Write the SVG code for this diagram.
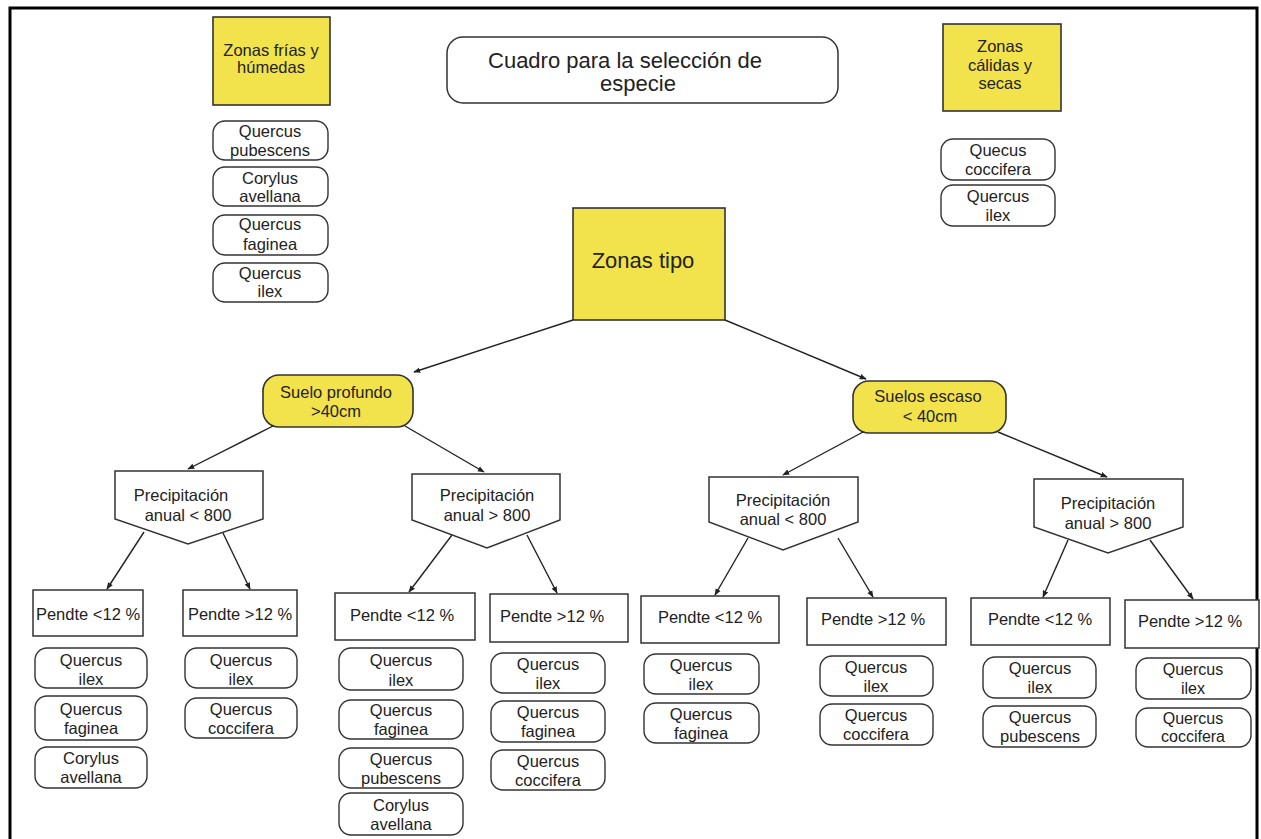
<svg xmlns="http://www.w3.org/2000/svg" width="1261" height="839" viewBox="0 0 1261 839">
<style>
text{font-family:"Liberation Sans",Arial,sans-serif;fill:#222;text-anchor:middle}
.t15{font-size:16.5px}
.t14{font-size:16px}
.t20{font-size:22px}
.sp{fill:#fff;stroke:#333;stroke-width:1.4}
.yel{fill:#f2e24c;stroke:#333;stroke-width:1.6}
.box{fill:#fff;stroke:#333;stroke-width:1.5}
.con line{stroke:#222;stroke-width:1.4;marker-end:url(#ah)}
</style>
<defs>
<marker id="ah" viewBox="0 0 10 10" refX="9" refY="5" markerWidth="7" markerHeight="7" orient="auto" markerUnits="userSpaceOnUse">
<path d="M0,1 L10,5 L0,9 Z" fill="#222"/>
</marker>
</defs>
<rect width="1261" height="839" fill="#fff"/>
<path d="M10,839 L10,8 L1257,8 L1257,839" fill="none" stroke="#000" stroke-width="3"/>

<g id="title"><rect class="box" x="447" y="37" width="391" height="66" rx="16"/>
<text class="t20" x="625" y="68">Cuadro para la selección de</text>
<text class="t20" x="638" y="91">especie</text></g>

<g id="zonas-frias"><rect class="yel" x="213" y="17" width="117" height="88"/>
<text class="t15" x="271" y="56">Zonas frías y</text>
<text class="t15" x="271" y="73">húmedas</text></g>

<g id="zonas-calidas"><rect class="yel" x="943" y="24" width="118" height="87"/>
<text class="t15" x="1000" y="52">Zonas</text>
<text class="t15" x="1000" y="71">cálidas y</text>
<text class="t15" x="1000" y="89">secas</text></g>

<g id="zonas-tipo"><rect class="yel" x="573" y="208" width="152" height="112"/>
<text class="t20" x="643" y="268">Zonas tipo</text></g>

<g id="suelo-profundo"><rect class="yel" x="263" y="375" width="150" height="52" rx="16"/>
<text class="t15" x="336" y="398">Suelo profundo</text>
<text class="t15" x="336" y="417">&gt;40cm</text></g>

<g id="suelos-escaso"><rect class="yel" x="853" y="381" width="153" height="52" rx="16"/>
<text class="t15" x="928" y="402">Suelos escaso</text>
<text class="t15" x="930" y="422">&lt; 40cm</text></g>

<g id="p1"><path class="box" d="M115,471 L263,471 L263,519 L188,544 L115,519 Z"/>
<text class="t15" x="181" y="501">Precipitación</text>
<text class="t15" x="188" y="521">anual &lt; 800</text></g>
<g id="p2"><path class="box" d="M412,474 L560,474 L560,520 L487,548 L412,520 Z"/>
<text class="t15" x="487" y="501">Precipitación</text>
<text class="t15" x="487" y="521">anual &gt; 800</text></g>
<g id="p3"><path class="box" d="M709,477 L858,477 L858,522 L783,550 L709,522 Z"/>
<text class="t15" x="783" y="506">Precipitación</text>
<text class="t15" x="783" y="525">anual &lt; 800</text></g>
<g id="p4"><path class="box" d="M1034,479 L1183,479 L1183,527 L1108,553 L1034,527 Z"/>
<text class="t15" x="1108" y="509">Precipitación</text>
<text class="t15" x="1108" y="529">anual &gt; 800</text></g>

<g id="b1"><rect class="box" x="33" y="590" width="110" height="46"/><text class="t15" x="88" y="620">Pendte &lt;12 %</text></g>
<g id="b2"><rect class="box" x="183" y="590" width="114" height="46"/><text class="t15" x="240" y="620">Pendte &gt;12 %</text></g>
<g id="b3"><rect class="box" x="335" y="593" width="140" height="47"/><text class="t15" x="402" y="621">Pendte &lt;12 %</text></g>
<g id="b4"><rect class="box" x="490" y="594" width="138" height="48"/><text class="t15" x="552" y="622">Pendte &gt;12 %</text></g>
<g id="b5"><rect class="box" x="641" y="596" width="138" height="47"/><text class="t15" x="710" y="623">Pendte &lt;12 %</text></g>
<g id="b6"><rect class="box" x="807" y="598" width="139" height="47"/><text class="t15" x="873" y="625">Pendte &gt;12 %</text></g>
<g id="b7"><rect class="box" x="971" y="598" width="139" height="47"/><text class="t15" x="1040" y="625">Pendte &lt;12 %</text></g>
<g id="b8"><rect class="box" x="1125" y="600" width="134" height="48"/><text class="t15" x="1190" y="627">Pendte &gt;12 %</text></g>

<g id="tl1"><rect class="sp" x="213" y="121" width="115" height="39" rx="12"/><text class="t15" x="270" y="137">Quercus</text><text class="t15" x="270" y="156">pubescens</text></g>
<g id="tl2"><rect class="sp" x="213" y="167" width="115" height="39" rx="12"/><text class="t15" x="270" y="184">Corylus</text><text class="t15" x="270" y="202">avellana</text></g>
<g id="tl3"><rect class="sp" x="213" y="215" width="115" height="40" rx="12"/><text class="t15" x="270" y="230">Quercus</text><text class="t15" x="270" y="250">faginea</text></g>
<g id="tl4"><rect class="sp" x="213" y="263" width="115" height="39" rx="12"/><text class="t15" x="270" y="279">Quercus</text><text class="t15" x="270" y="297">ilex</text></g>
<g id="tr1"><rect class="sp" x="941" y="139" width="114" height="41" rx="12"/><text class="t15" x="998" y="156">Quecus</text><text class="t15" x="998" y="175">coccifera</text></g>
<g id="tr2"><rect class="sp" x="941" y="185" width="114" height="41" rx="12"/><text class="t15" x="998" y="202">Quercus</text><text class="t15" x="998" y="221">ilex</text></g>

<g id="c1a"><rect class="sp" x="35" y="648" width="112" height="40" rx="12"/><text class="t15" x="91" y="666">Quercus</text><text class="t15" x="91" y="685">ilex</text></g>
<g id="c1b"><rect class="sp" x="35" y="696" width="112" height="44" rx="12"/><text class="t15" x="91" y="715">Quercus</text><text class="t15" x="91" y="734">faginea</text></g>
<g id="c1c"><rect class="sp" x="35" y="747" width="112" height="41" rx="12"/><text class="t15" x="91" y="764">Corylus</text><text class="t15" x="91" y="783">avellana</text></g>
<g id="c2a"><rect class="sp" x="185" y="648" width="112" height="40" rx="12"/><text class="t15" x="241" y="666">Quercus</text><text class="t15" x="241" y="685">ilex</text></g>
<g id="c2b"><rect class="sp" x="185" y="698" width="112" height="40" rx="12"/><text class="t15" x="241" y="715">Quercus</text><text class="t15" x="241" y="734">coccifera</text></g>
<g id="c3a"><rect class="sp" x="339" y="648" width="124" height="42" rx="12"/><text class="t15" x="401" y="666">Quercus</text><text class="t15" x="401" y="686">ilex</text></g>
<g id="c3b"><rect class="sp" x="339" y="700" width="124" height="39" rx="12"/><text class="t15" x="401" y="716">Quercus</text><text class="t15" x="401" y="735">faginea</text></g>
<g id="c3c"><rect class="sp" x="339" y="748" width="124" height="40" rx="12"/><text class="t15" x="401" y="765">Quercus</text><text class="t15" x="401" y="784">pubescens</text></g>
<g id="c3d"><rect class="sp" x="339" y="793" width="124" height="42" rx="12"/><text class="t15" x="401" y="811">Corylus</text><text class="t15" x="401" y="830">avellana</text></g>
<g id="c4a"><rect class="sp" x="491" y="653" width="114" height="40" rx="12"/><text class="t15" x="548" y="670">Quercus</text><text class="t15" x="548" y="689">ilex</text></g>
<g id="c4b"><rect class="sp" x="491" y="701" width="114" height="41" rx="12"/><text class="t15" x="548" y="718">Quercus</text><text class="t15" x="548" y="737">faginea</text></g>
<g id="c4c"><rect class="sp" x="491" y="750" width="114" height="40" rx="12"/><text class="t15" x="548" y="767">Quercus</text><text class="t15" x="548" y="786">coccifera</text></g>
<g id="c5a"><rect class="sp" x="644" y="654" width="115" height="40" rx="12"/><text class="t15" x="701" y="671">Quercus</text><text class="t15" x="701" y="690">ilex</text></g>
<g id="c5b"><rect class="sp" x="644" y="703" width="115" height="40" rx="12"/><text class="t15" x="701" y="720">Quercus</text><text class="t15" x="701" y="739">faginea</text></g>
<g id="c6a"><rect class="sp" x="820" y="656" width="113" height="40" rx="12"/><text class="t15" x="876" y="673">Quercus</text><text class="t15" x="876" y="692">ilex</text></g>
<g id="c6b"><rect class="sp" x="820" y="704" width="113" height="41" rx="12"/><text class="t15" x="876" y="721">Quercus</text><text class="t15" x="876" y="740">coccifera</text></g>
<g id="c7a"><rect class="sp" x="983" y="657" width="113" height="41" rx="12"/><text class="t15" x="1040" y="674">Quercus</text><text class="t15" x="1040" y="693">ilex</text></g>
<g id="c7b"><rect class="sp" x="983" y="706" width="113" height="41" rx="12"/><text class="t15" x="1040" y="723">Quercus</text><text class="t15" x="1040" y="742">pubescens</text></g>
<g id="c8a"><rect class="sp" x="1136" y="658" width="115" height="41" rx="12"/><text class="t14" x="1193" y="675">Quercus</text><text class="t14" x="1193" y="694">ilex</text></g>
<g id="c8b"><rect class="sp" x="1136" y="708" width="115" height="39" rx="12"/><text class="t14" x="1193" y="724">Quercus</text><text class="t14" x="1193" y="742">coccifera</text></g>

<g id="connectors" class="con">
<line x1="573" y1="320" x2="414" y2="372"/>
<line x1="725" y1="320" x2="866" y2="379"/>
<line x1="273" y1="426" x2="188" y2="469"/>
<line x1="405" y1="426" x2="484" y2="472"/>
<line x1="863" y1="432" x2="783" y2="475"/>
<line x1="998" y1="432" x2="1107" y2="477"/>
<line x1="144" y1="532" x2="107" y2="589"/>
<line x1="223" y1="533" x2="250" y2="589"/>
<line x1="452" y1="535" x2="409" y2="592"/>
<line x1="527" y1="535" x2="557" y2="593"/>
<line x1="748" y1="538" x2="715" y2="595"/>
<line x1="838" y1="538" x2="873" y2="597"/>
<line x1="1068" y1="540" x2="1043" y2="597"/>
<line x1="1150" y1="540" x2="1193" y2="599"/>
</g>
</svg>
